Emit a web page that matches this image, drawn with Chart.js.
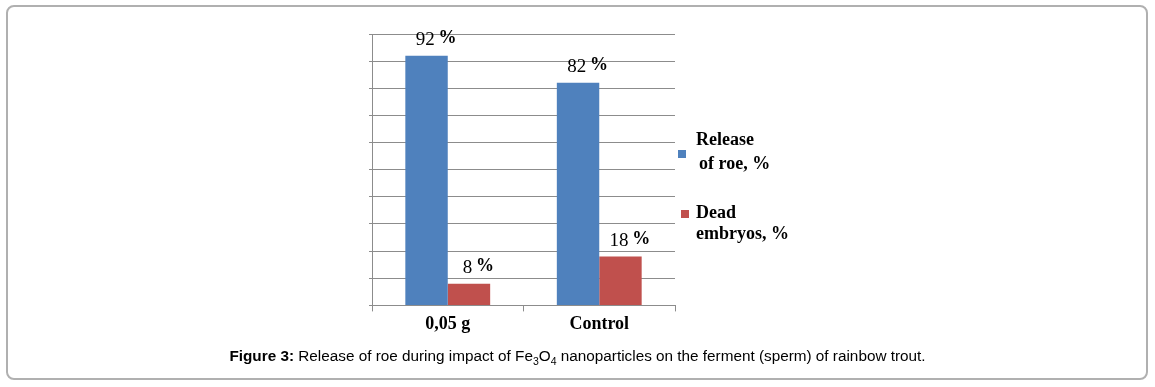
<!DOCTYPE html>
<html>
<head>
<meta charset="utf-8">
<script src="https://cdn.jsdelivr.net/npm/chart.js@4.4.0/dist/chart.umd.min.js"></script>
<style>
  html, body { margin: 0; padding: 0; background: #fff; }
  body { width: 1155px; height: 387px; position: relative; overflow: hidden; }
  #frame { position: absolute; left: 6px; top: 5px; width: 1138px; height: 371px;
           border: 2px solid #b0b0b0; border-radius: 8px; }
  #wrap { position: absolute; left: 0; top: 0; width: 1155px; height: 387px; }
  #caption { position: absolute; left: 0; top: 347px; width: 1155px; text-align: center;
             font-family: "Liberation Sans", Arial, sans-serif; font-size: 15.3px; color: #000; }
  #caption sub { font-size: 10.5px; vertical-align: -4px; line-height: 0; }
</style>
</head>
<body>
<div id="frame"></div>
<div id="wrap"><canvas id="c" width="1155" height="387"></canvas></div>
<div id="caption"><b>Figure 3:</b> Release of roe during impact of Fe<sub>3</sub>O<sub>4</sub> nanoparticles on the ferment (sperm) of rainbow trout.</div>
<script>
const categories = ["0,05 g", "Control"];
const releaseOfRoe = [92, 82];
const deadEmbryos = [8, 18];
const seriesLabels = [["Release", " of roe, %"], ["Dead", "embryos, %"]];
const yMin = 0, yMax = 100, yStep = 10;

const blue = "#4F81BD", red = "#C0504D";
const serif = '"Liberation Serif", "Times New Roman", serif';

const valueLabels = {
  id: "valueLabels",
  afterDatasetsDraw(chart) {
    const ctx = chart.ctx;
    ctx.save();
    ctx.fillStyle = "#000";
    ctx.textBaseline = "alphabetic";
    chart.data.datasets.forEach((ds, di) => {
      const meta = chart.getDatasetMeta(di);
      meta.data.forEach((bar, i) => {
        const num = String(ds.data[i]);
        ctx.font = "19px " + serif;
        const wNum = ctx.measureText(num + " ").width;
        ctx.font = "bold 18px " + serif;
        const wPct = ctx.measureText("%").width;
        const total = wNum + wPct;
        const cx = bar.x + 10;
        const base = bar.y - 11;
        let x = cx - total / 2;
        ctx.textAlign = "left";
        ctx.font = "19px " + serif;
        ctx.fillText(num + " ", x, base);
        ctx.font = "bold 18px " + serif;
        ctx.fillText("%", x + wNum - 1, base - 2);
      });
    });
    ctx.restore();
  }
};

const sideLegend = {
  id: "sideLegend",
  afterDraw(chart) {
    const ctx = chart.ctx;
    const a = chart.chartArea;
    ctx.save();
    const items = [
      { color: chart.data.datasets[0].backgroundColor, lines: chart.data.datasets[0].legendLines, sq: [a.right + 3, 150], tx: [a.right + 21, 145, a.right + 24, 169] },
      { color: chart.data.datasets[1].backgroundColor, lines: chart.data.datasets[1].legendLines, sq: [a.right + 6, 210], tx: [a.right + 21, 218, a.right + 21, 239] }
    ];
    items.forEach(it => {
      ctx.fillStyle = it.color;
      ctx.fillRect(it.sq[0], it.sq[1], 8, 8);
      ctx.fillStyle = "#000";
      ctx.font = "bold 18px " + serif;
      ctx.textAlign = "left";
      ctx.textBaseline = "alphabetic";
      ctx.fillText(it.lines[0], it.tx[0], it.tx[1]);
      ctx.fillText(it.lines[1].trim(), it.tx[2], it.tx[3]);
    });
    ctx.restore();
  }
};

new Chart(document.getElementById("c"), {
  type: "bar",
  data: {
    labels: categories,
    datasets: [
      { label: seriesLabels[0].join(" "), legendLines: seriesLabels[0], data: releaseOfRoe, backgroundColor: blue },
      { label: seriesLabels[1].join(" "), legendLines: seriesLabels[1], data: deadEmbryos, backgroundColor: red }
    ]
  },
  options: {
    responsive: false,
    animation: false,
    layout: { padding: { left: 369, top: 34, right: 480, bottom: 50 } },
    datasets: { bar: { categoryPercentage: 0.56, barPercentage: 1.0 } },
    plugins: { legend: { display: false }, tooltip: { enabled: false } },
    scales: {
      x: {
        grid: { display: true, offset: true, drawOnChartArea: false, drawTicks: true, tickLength: 6, color: "#8c8c8c" },
        border: { display: true, color: "#8c8c8c" },
        ticks: { color: "#000", font: { family: serif, size: 18, weight: "bold" }, padding: 2 }
      },
      y: {
        min: yMin, max: yMax,
        grid: { color: "#8c8c8c", tickLength: 3, drawTicks: true },
        border: { display: true, color: "#8c8c8c" },
        ticks: { display: false, stepSize: yStep }
      }
    }
  },
  plugins: [valueLabels, sideLegend]
});
</script>
</body>
</html>
